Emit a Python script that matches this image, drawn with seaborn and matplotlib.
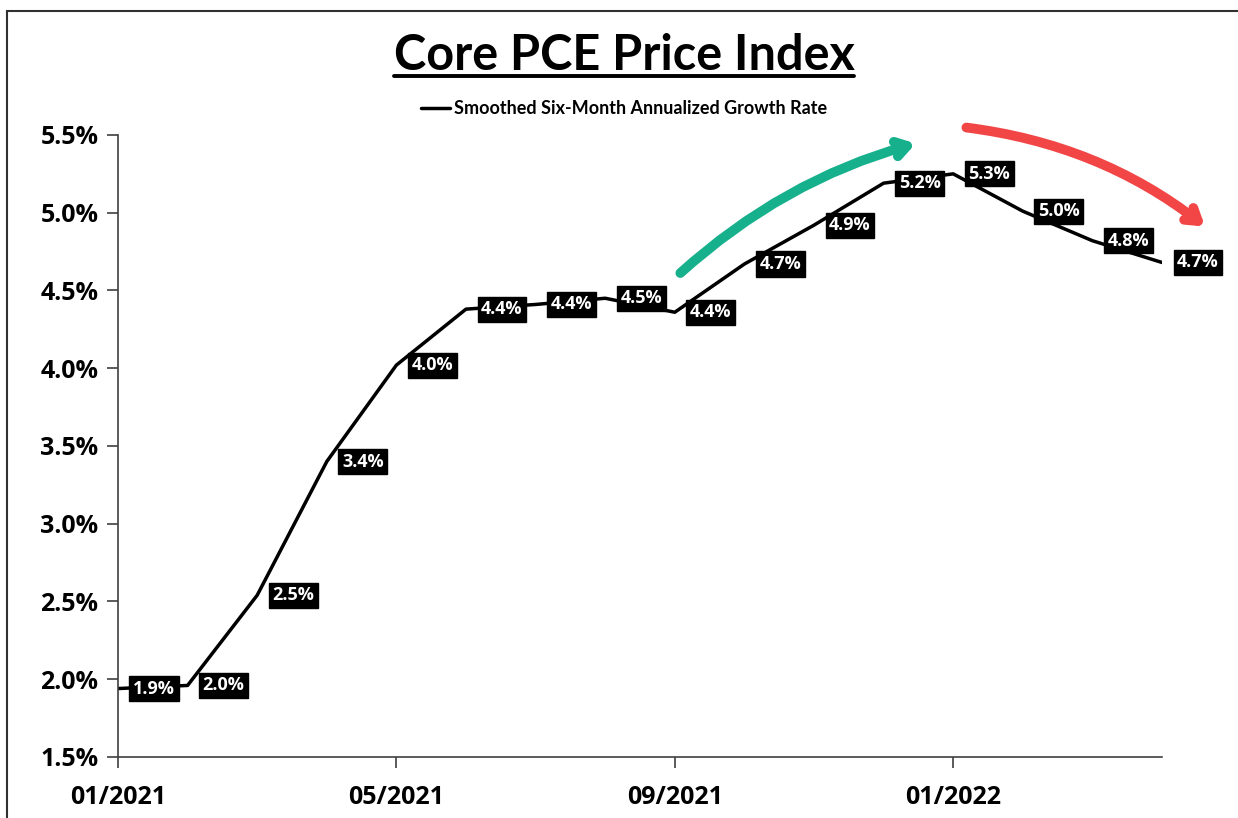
"""Core PCE Price Index: smoothed six-month annualized growth rate."""
import numpy as np
import pandas as pd
import matplotlib.pyplot as plt
import seaborn as sns
from matplotlib.patches import Rectangle

months = ["01/2021", "02/2021", "03/2021", "04/2021", "05/2021", "06/2021",
          "07/2021", "08/2021", "09/2021", "10/2021", "11/2021", "12/2021",
          "01/2022", "02/2022", "03/2022", "04/2022"]
growth = [1.94, 1.96, 2.54, 3.40, 4.02, 4.38, 4.41, 4.45, 4.36, 4.67,
          4.92, 5.19, 5.25, 5.01, 4.82, 4.68]
labels = ["1.9%", "2.0%", "2.5%", "3.4%", "4.0%", "4.4%", "4.4%", "4.5%",
          "4.4%", "4.7%", "4.9%", "5.2%", "5.3%", "5.0%", "4.8%", "4.7%"]
xtick_labels = ["01/2021", "05/2021", "09/2021", "01/2022"]
yticks = [1.5, 2.0, 2.5, 3.0, 3.5, 4.0, 4.5, 5.0, 5.5]

df = pd.DataFrame({"month": months, "growth": growth, "label": labels})
df["idx"] = np.arange(len(df))

sns.set_theme(style="white")
plt.rcParams["font.family"] = ["Open Sans", "DejaVu Sans"]
plt.rcParams["text.color"] = "black"
plt.rcParams["xtick.color"] = "black"
plt.rcParams["ytick.color"] = "black"

fig = plt.figure(figsize=(12.38, 8.18), dpi=100)
ax = fig.add_axes([0.0953, 0.0746, 0.8433, 0.7604])

sns.lineplot(data=df, x="idx", y="growth", color="black", lw=2.5, ax=ax,
             label="Smoothed Six-Month Annualized Growth Rate", legend=False)

for _, row in df.iterrows():
    ax.annotate(row["label"], (row["idx"], row["growth"]), xytext=(36, 0),
                textcoords="offset pixels",
                ha="center", va="center", color="white", fontsize=13,
                fontweight="bold",
                bbox=dict(boxstyle="square,pad=0.2", fc="black", ec="black"),
                annotation_clip=False)

ax.set_xlim(0, 15)
ax.set_ylim(1.5, 5.5)
ax.set_xticks([0, 4, 8, 12])
ax.set_xticklabels(xtick_labels)
ax.set_yticks(yticks)
ax.set_yticklabels([f"{v:.1f}%" for v in yticks])
ax.set_xlabel("")
ax.set_ylabel("")
for lab in ax.get_xticklabels() + ax.get_yticklabels():
    lab.set_fontweight("bold")
    lab.set_fontsize(18)
ax.tick_params(axis="both", direction="out", length=8, width=1.2,
               color="#404040", bottom=True, left=True)
ax.tick_params(axis="x", pad=12)
ax.tick_params(axis="y", pad=6)
sns.despine(ax=ax)
for side in ("left", "bottom"):
    ax.spines[side].set_color("#404040")
    ax.spines[side].set_linewidth(1.2)

# hand-drawn trend arrows
ax.annotate("", xy=(11.5, 5.45), xytext=(8.05, 4.60), annotation_clip=False,
            arrowprops=dict(arrowstyle="->,head_length=0.7,head_width=0.45",
                            color="#17b08c", lw=7, capstyle="round",
                            connectionstyle="arc3,rad=-0.12"))
ax.annotate("", xy=(15.65, 4.9), xytext=(12.15, 5.55), annotation_clip=False,
            arrowprops=dict(arrowstyle="->,head_length=0.7,head_width=0.45",
                            color="#f24646", lw=7, capstyle="round",
                            connectionstyle="arc3,rad=-0.14"))

# title with underline
title = fig.text(0.504, 0.932, "Core PCE Price Index", ha="center", va="center",
                 fontsize=35, fontweight="bold", family=["Lato", "DejaVu Sans"])
fig.canvas.draw()
bb = title.get_window_extent().transformed(fig.transFigure.inverted())
fig.add_artist(plt.Line2D([bb.x0, bb.x1], [bb.y0 + 0.002, bb.y0 + 0.002],
                          color="black", lw=2.8, transform=fig.transFigure))

handles, leg_labels = ax.get_legend_handles_labels()
fig.legend(handles, leg_labels, loc="center", bbox_to_anchor=(0.504, 0.867),
           frameon=False, handlelength=1.6, handletextpad=0.2,
           prop=dict(family=["Lato", "DejaVu Sans"], weight="bold", size=13))

fig.add_artist(Rectangle((0.006, -0.01), 1.0, 0.996, transform=fig.transFigure,
                         fill=False, ec="#303030", lw=1.5))

fig.savefig("out.png", dpi=100)
